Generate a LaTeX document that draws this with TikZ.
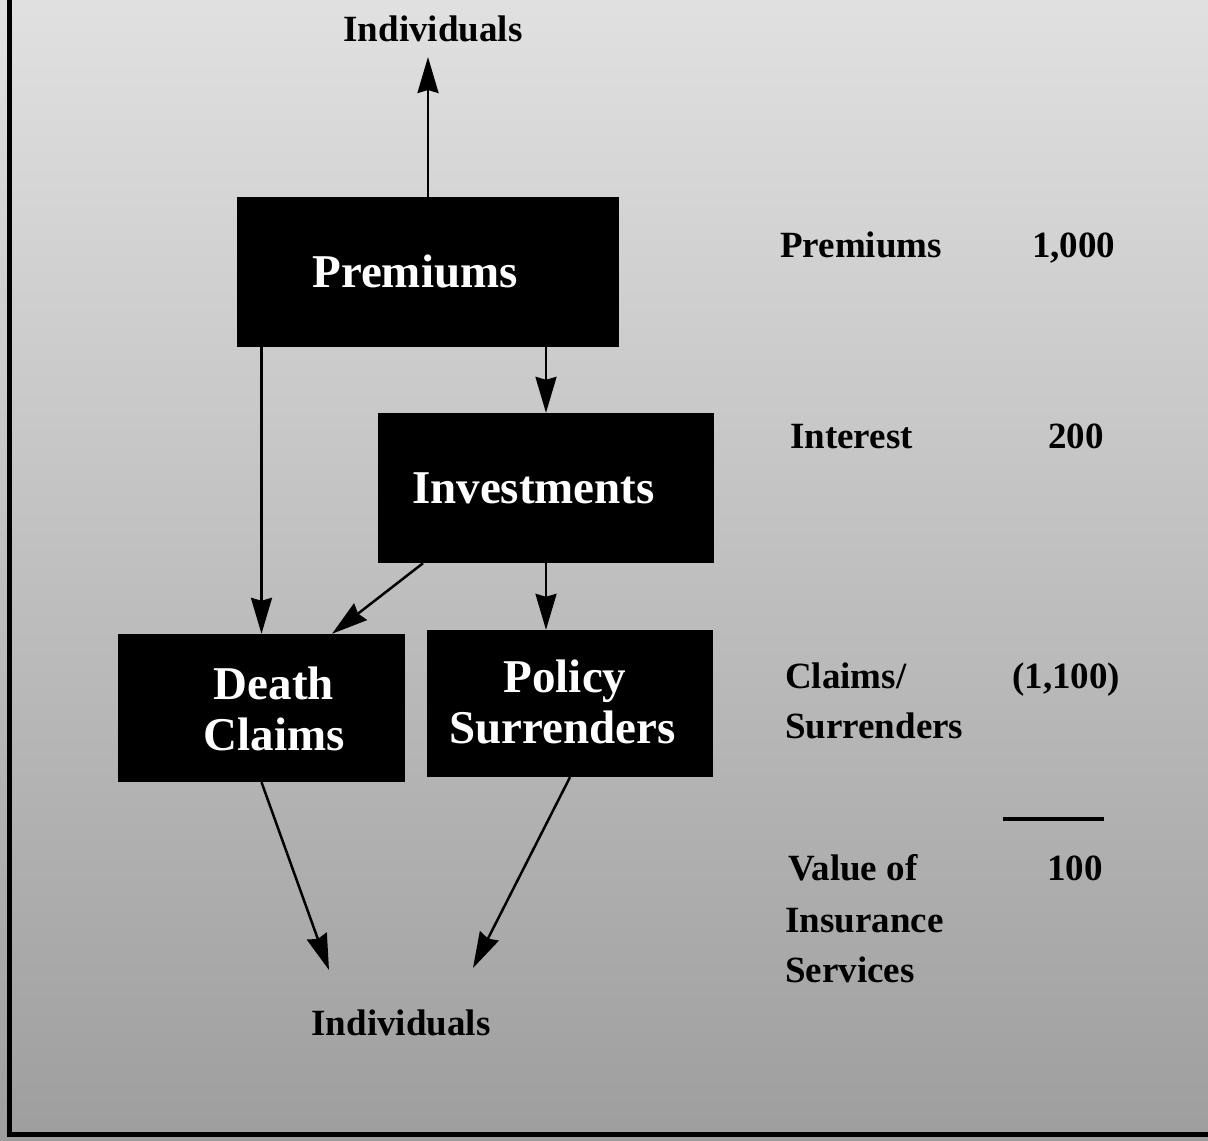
\documentclass[tikz,border=0pt]{standalone}
\usepackage{fontspec}
\setmainfont{Liberation Serif}
\usetikzlibrary{arrows.meta}
\begin{document}
\begin{tikzpicture}[x=1pt,y=-1pt,
  box/.style={fill=black, draw=none, inner sep=0pt, rectangle},
  boxtext/.style={text=white, font=\fontsize{47}{52}\selectfont\bfseries, anchor=base, inner sep=0pt},
  sidetext/.style={font=\fontsize{37}{44}\selectfont\bfseries, anchor=base west, inner sep=0pt},
  endtext/.style={font=\fontsize{37}{44}\selectfont\bfseries, anchor=base, inner sep=0pt},
  flow/.style={line width=2.5pt, -{Stealth[length=36pt,width=21pt,inset=3pt]}},
  frame/.style={line width=5pt}]

% paper background and frame
\fill[top color=black!12, bottom color=black!38] (0,0) rectangle (1208,1141);
\useasboundingbox (0,0) rectangle (1208,1141);
\draw[frame] (9.5,0) -- (9.5,1136.5);
\draw[frame] (7,1134) -- (1208,1134);

% flow boxes
\node[box, minimum width=382pt, minimum height=150pt] (prem)   at (428,272)   {};
\node[box, minimum width=336pt, minimum height=150pt] (inv)    at (546,488)   {};
\node[box, minimum width=287pt, minimum height=148pt] (death)  at (261.5,708) {};
\node[box, minimum width=286pt, minimum height=147pt] (policy) at (570,703.5) {};

\node[boxtext] (premtxt)  at (415,287)   {Premiums};
\node[boxtext] (invtxt)   at (533.5,503) {Investments};
\node[boxtext] (deathtxt) at (274,699)   {Death};
\node[boxtext] (claimtxt) at (274,750)   {Claims};
\node[boxtext] (poltxt)   at (565,692)   {Policy};
\node[boxtext] (surrtxt)  at (562.5,743) {Surrenders};

% households at both ends of the flow
\node[endtext] (indtop) at (433,41)   {Individuals};
\node[endtext] (indbot) at (401,1035) {Individuals};
\coordinate (tipL) at (329,970);
\coordinate (tipR) at (473,968);

% connectors
\draw[flow] (prem.north) -- (prem.north |- 0,57);
\draw[flow] (prem.south -| death.north) -- (death.north);
\draw[flow] (prem.south -| inv.north) -- (inv.north);
\draw[flow] ([xshift=-123pt]inv.south) -- ([xshift=70.5pt]death.north);
\draw[flow] (inv.south) -- (inv.south |- policy.north);
\draw[flow] (death.south) -- (tipL);
\draw[flow] (policy.south) -- (tipR);

% accounting column
\node[sidetext] (lprem)  at (780,257)  {Premiums};
\node[sidetext] (nprem)  at (1032,257) {1,000};
\node[sidetext] (lint)   at (790,448)  {Interest};
\node[sidetext] (nint)   at (1048,448) {200};
\node[sidetext] (lclaim) at (785,688)  {Claims/};
\node[sidetext] (lsurr)  at (785,738)  {Surrenders};
\node[sidetext] (nclaim) at (1012,688) {(1,100)};
\draw[line width=4pt] (1003,819) -- (1104,819);
\node[sidetext] (lval)   at (788,880)  {Value of};
\node[sidetext] (nval)   at (1047,880) {100};
\node[sidetext] (lins)   at (785,932)  {Insurance};
\node[sidetext] (lserv)  at (785,982)  {Services};
\end{tikzpicture}
\end{document}
